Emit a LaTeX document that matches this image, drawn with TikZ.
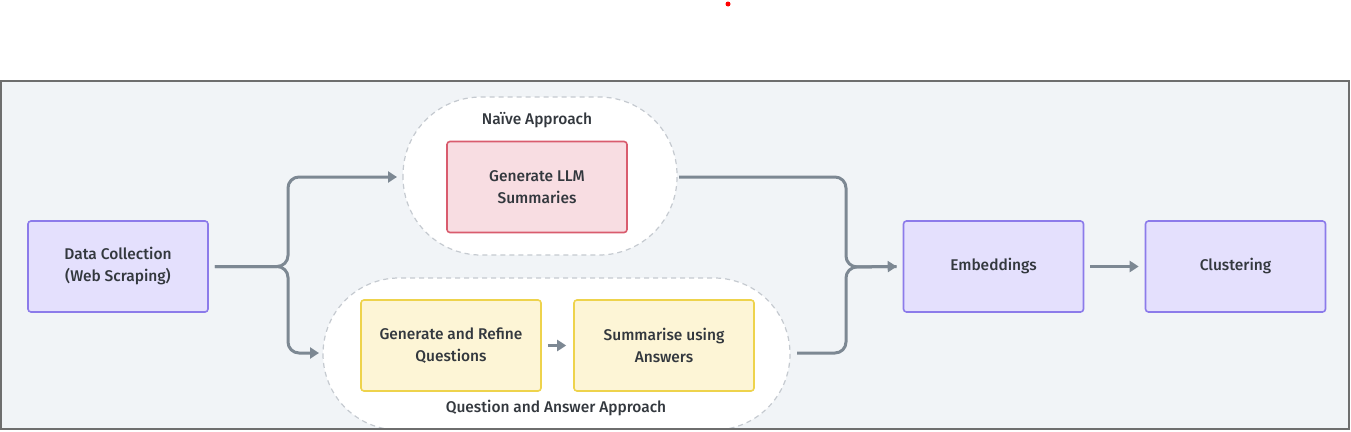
\documentclass[tikz,border=0pt]{standalone}
\usepackage{fontspec}
\setmainfont{Fira Sans}[UprightFont=* Medium]
\usetikzlibrary{arrows.meta,calc}
\definecolor{framegray}{HTML}{6E6E6E}
\definecolor{bgpanel}{HTML}{F1F4F7}
\definecolor{purplefill}{HTML}{E4E0FD}
\definecolor{purpleline}{HTML}{8C7BEA}
\definecolor{pinkfill}{HTML}{F8DDE2}
\definecolor{pinkline}{HTML}{D95C6E}
\definecolor{yelfill}{HTML}{FDF5D6}
\definecolor{yelline}{HTML}{EED34C}
\definecolor{arrowgray}{HTML}{7D8893}
\definecolor{dashgray}{HTML}{C5CAD0}
\definecolor{textgray}{HTML}{33383E}
\tikzset{
  boxbase/.style={rectangle, rounded corners=3pt, line width=1.6pt, align=center,
    text=textgray, font=\fontsize{15.5}{22}\selectfont, minimum width=180pt, minimum height=91pt, inner sep=0pt},
  purplebox/.style={boxbase, fill=purplefill, draw=purpleline},
  pinkbox/.style={boxbase, fill=pinkfill, draw=pinkline},
  yelbox/.style={boxbase, fill=yelfill, draw=yelline},
  group/.style={fill=white, draw=dashgray, line width=1.2pt, dash pattern=on 5pt off 4pt},
  conn/.style={draw=arrowgray, line width=3pt, rounded corners=11pt},
  tip/.style={-{Triangle[length=9pt,width=11pt]}},
  lbl/.style={text=textgray, font=\fontsize{15.5}{18}\selectfont, inner sep=0pt}
}
\begin{document}
\begin{tikzpicture}[x=1pt,y=-1pt]
\useasboundingbox (0,0) rectangle (1351,431);
% red dot
\fill[red] (728,4) circle (2.5pt);
% frame
\fill[bgpanel] (1,81) rectangle (1349,429);
\begin{scope}
\clip (1,81) rectangle (1349,429);
% group shapes
\draw[group, rounded corners=78pt] (403,97) rectangle (677,255);
\draw[group, rounded corners=76pt] (323,278) rectangle (790,430);
\end{scope}
\draw[framegray, line width=2pt] (1,81) rectangle (1349,429);
% labels
\node[lbl] (naivelbl) at (537,120) {Naïve Approach};
\node[lbl] (qalbl) at (556,408) {Question and Answer Approach};
% nodes
\node[purplebox] (data) at (118,266.5) {Data Collection\\(Web Scraping)};
\node[pinkbox] (llm) at (537,187) {Generate LLM\\Summaries};
\node[yelbox] (gen) at (451,345.5) {Generate and Refine\\Questions};
\node[yelbox] (sum) at (664,345.5) {Summarise using\\Answers};
\node[purplebox] (emb) at (993.5,266.5) {Embeddings};
\node[purplebox] (clu) at (1235.5,266.5) {Clustering};
% connector anchor coordinates
\coordinate (dOut) at ($(data.east)+(6,0)$);
\coordinate (nIn) at (397,177);
\coordinate (qIn) at (319,353);
\coordinate (nOut) at (679,177);
\coordinate (qOut) at (797,353);
\coordinate (eIn) at ($(emb.west)+(-6,0)$);
% connectors
\draw[conn, tip] (dOut) -| (288,177) -- (nIn);
\draw[conn, tip] (dOut) -| (288,353) -- (qIn);
\draw[conn] (nOut) -| (846,267) -- (eIn);
\draw[conn, tip] (qOut) -| (846,267) -- (eIn);
\draw[conn, tip] ($(gen.east)+(6,0)$) -- ($(sum.west)+(-7,0)$);
\draw[conn, tip] ($(emb.east)+(6,0)$) -- ($(clu.west)+(-6,0)$);
\end{tikzpicture}
\end{document}
